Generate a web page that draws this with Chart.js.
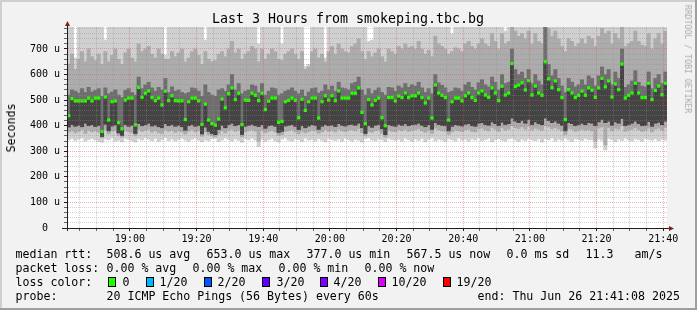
<!DOCTYPE html>
<html>
<head>
<meta charset="utf-8">
<script src="https://cdn.jsdelivr.net/npm/chart.js@4.4.1/dist/chart.umd.min.js"></script>
<style>
  body { margin: 0; background: #f2f2f2; }
  #wrap { position: relative; width: 697px; height: 310px; overflow: hidden; font-family: 'DejaVu Sans Mono', monospace; color: #000; }
  #wrap canvas { position: absolute; left: 0; top: 0; }
  .t { position: absolute; white-space: pre; font-size: 11.6px; line-height: 14px; height: 14px; }
  .box { position: absolute; width: 6px; height: 8px; border: 1px solid #000; }
  #title { position: absolute; left: 0; width: 696px; top: 11px; text-align: center; font-size: 13.3px; line-height: 16px; white-space: pre; }
  #ytitle { position: absolute; left: 11px; top: 128px; transform: translate(-50%, -50%) rotate(-90deg); font-size: 11.6px; white-space: pre; }
  #brand { position: absolute; left: 688px; top: 59px; transform: translate(-50%, -50%) rotate(90deg); font-size: 8.2px; color: #ababab; white-space: pre; }
</style>
</head>
<body>
<div id="wrap">
  <canvas id="chart" width="697" height="310"></canvas>
  <div id="title">Last 3 Hours from smokeping.tbc.bg</div>
  <div id="ytitle">Seconds</div>
  <div id="brand">RRDTOOL / TOBI OETIKER</div>
  <div id="legend"></div>
</div>
<script>
// Tempo: minutos desde 18:00 (inicio 18:41:08, um passo por minuto)
const startMinute = 41 + 8 / 60;
const stepCount = 180;

// Mediana do rtt (us)
const medianRtt = [
  439,506,497,497,497,497,508,497,508,508,377,512,422,494,497,412,388,500,508,508,
  403,550,511,527,536,510,498,508,481,535,498,517,498,497,497,424,494,508,508,497,
  405,484,422,408,402,426,504,470,525,548,502,527,404,500,499,527,519,498,527,463,
  496,508,508,413,417,494,499,508,499,431,503,460,494,508,508,430,494,517,500,517,
  498,536,508,508,508,527,527,548,452,408,502,481,499,508,431,400,510,510,497,516,
  510,528,510,517,517,528,510,489,508,430,559,528,519,510,422,494,508,508,497,517,
  528,510,499,528,536,520,511,548,528,498,554,520,528,643,553,559,568,540,576,520,
  555,528,519,650,583,549,575,541,510,424,541,528,510,519,535,519,548,539,511,548,
  585,552,575,512,563,541,641,508,519,528,566,528,510,510,566,502,538,555,521,566
];

// Fumaca (smoke): limites das faixas por passo
const smokeMin = [
  345,350,342,348,352,340,346,350,344,338,335,348,345,352,340,343,337,350,346,341,
  336,349,344,352,347,341,350,338,345,353,342,348,340,346,351,344,339,347,352,343,
  337,345,341,349,350,338,344,352,346,340,348,343,335,349,345,351,344,318,347,339,
  345,350,341,336,347,352,343,340,348,345,338,351,344,346,340,349,343,337,350,346,
  342,348,339,351,345,340,347,343,336,349,352,344,341,348,345,338,350,346,342,347,
  340,351,345,339,348,343,350,337,346,352,341,347,344,338,349,345,340,351,343,347,
  339,348,344,352,341,346,350,337,345,349,343,340,348,351,344,338,347,342,350,345,
  341,348,336,349,345,352,340,347,343,351,344,338,349,346,342,350,345,345,312,348,
  343,305,350,345,338,347,342,351,344,340,348,345,339,350,346,343,349,341,347,344
];
const smokeLow = [
  375,380,372,378,385,370,382,376,380,374,352,384,368,378,381,362,355,380,376,372,
  360,385,378,382,386,375,380,372,370,384,378,382,374,380,376,368,378,384,376,380,
  358,375,365,360,356,368,380,372,382,386,378,382,356,376,380,384,378,340,382,372,
  378,382,376,362,365,378,380,384,376,368,378,372,377,382,380,370,376,384,378,382,
  376,386,380,377,382,384,380,388,372,360,378,374,380,383,370,355,382,378,376,384,
  380,386,378,382,384,388,380,374,382,370,390,383,380,378,366,376,382,380,377,384,
  386,378,376,388,390,383,380,392,386,378,392,383,386,400,392,388,395,386,398,383,
  390,386,382,400,395,388,392,386,380,365,388,386,378,383,386,382,385,380,340,390,
  395,325,392,380,390,386,400,378,383,386,392,384,378,380,390,376,386,390,382,392
];
const smokeDarkLow = [
  395,405,398,402,396,410,400,404,397,401,358,406,380,399,403,372,362,405,398,402,
  370,408,400,404,410,399,403,396,392,408,400,405,398,402,396,382,400,405,398,401,
  368,395,378,370,365,385,402,392,405,410,400,404,366,398,402,406,400,397,404,390,
  400,403,398,374,378,399,402,405,398,385,400,392,399,404,401,386,398,405,400,403,
  397,408,402,399,404,406,402,410,392,370,400,394,402,405,388,365,404,400,398,406,
  402,408,400,404,406,410,402,396,404,386,412,405,402,400,380,398,404,402,399,406,
  408,400,398,410,412,405,402,415,408,400,414,405,408,430,418,412,420,410,425,405,
  415,408,404,430,420,412,418,410,402,380,412,408,400,405,410,404,412,410,400,415,
  425,412,418,402,415,410,428,400,405,410,418,408,400,402,416,398,410,414,404,418
];
const smokeDarkHigh = [
  520,540,535,528,545,530,550,532,538,545,515,548,525,532,540,520,510,538,545,530,
  520,590,545,560,570,548,535,550,540,585,530,552,535,540,530,525,530,548,545,535,
  515,560,530,520,515,540,545,535,560,600,540,565,525,535,540,560,555,530,565,520,
  535,548,545,520,525,535,540,548,535,525,540,515,532,545,548,528,535,560,540,555,
  535,570,548,545,540,565,570,590,540,520,545,525,538,548,530,520,550,548,535,555,
  548,565,550,560,555,570,548,530,545,525,600,568,558,548,530,535,548,545,535,560,
  570,550,540,568,580,560,552,590,570,540,600,565,570,700,620,600,610,585,620,565,
  600,575,560,790,640,595,620,585,555,530,585,570,552,560,580,560,595,585,555,595,
  630,600,620,560,610,585,700,550,560,575,615,570,555,552,610,545,585,600,565,610
];
const smokeHigh = [
  640,680,620,660,690,650,700,670,655,680,640,690,650,675,700,660,640,685,700,665,
  650,720,690,700,710,680,665,700,680,660,660,690,670,685,700,650,665,690,700,675,
  640,690,660,650,655,680,690,670,700,730,685,700,660,680,690,710,700,650,700,660,
  680,700,690,660,655,680,690,700,680,660,690,620,630,690,700,665,680,650,690,710,
  680,720,700,690,685,710,720,740,690,660,690,670,685,700,670,650,700,690,680,710,
  700,720,705,710,700,730,700,680,695,670,750,720,710,700,680,690,705,700,690,720,
  730,710,700,720,740,720,710,760,730,700,760,720,730,790,770,750,760,740,770,720,
  760,730,720,790,780,750,770,740,710,690,740,730,710,720,740,720,750,740,710,750,
  780,760,770,720,760,740,790,710,720,730,770,730,715,710,760,700,740,760,720,770
];
const smokeMax = [
  790,790,665,790,790,790,790,790,790,790,790,735,790,790,790,790,790,790,790,790,
  790,790,790,790,790,790,790,790,790,676,790,790,790,790,790,790,790,790,790,790,
  790,735,790,790,790,790,790,790,790,790,790,790,790,790,790,790,790,720,790,790,
  790,790,790,790,720,790,790,790,790,790,790,632,640,790,790,790,790,665,790,790,
  790,790,790,790,790,790,790,790,790,790,730,735,790,790,790,790,790,790,790,790,
  790,790,790,790,790,790,790,790,790,790,790,790,790,790,790,760,790,790,790,790,
  790,790,790,790,790,790,790,790,790,790,790,770,790,790,790,790,790,790,790,790,
  790,790,790,790,790,790,790,790,790,790,790,790,790,790,790,790,790,790,790,790,
  790,790,790,790,790,790,790,790,790,790,790,790,790,790,790,790,790,790,790,790
];

// Legenda
const legendRows = [
  ['median rtt:', '508.6 us avg', '653.0 us max', '377.0 us min', '567.5 us now', '0.0 ms sd', '11.3', 'am/s'],
  ['packet loss:', '0.00 % avg', '0.00 % max', '0.00 % min', '0.00 % now'],
  ['loss color:'],
  ['probe:', '20 ICMP Echo Pings (56 Bytes) every 60s', 'end: Thu Jun 26 21:41:08 2025']
];
const lossLabels = ['0', '1/20', '2/20', '3/20', '4/20', '10/20', '19/20'];
const lossColors = ['#26ff00', '#00b8ff', '#0059ff', '#5e00ff', '#7e00ff', '#dd00ff', '#ff0000'];

// posicoes da legenda (px)
const legendX = [
  [16, 107, 207, 307, 407, 507, 586, 635],
  [16, 107, 193, 279, 365],
  [16],
  [16, 107, 478]
];
const legendY = [254.3, 268.3, 282.3, 296.3];
const lossBoxX = [108, 146, 203.5, 262, 320, 378, 442.5];
const lossTextX = [123, 160, 218, 277, 334, 392, 457];

const legendEl = document.getElementById('legend');
legendRows.forEach((row, r) => {
  row.forEach((txt, k) => {
    const d = document.createElement('div');
    d.className = 't';
    d.textContent = txt;
    d.style.left = (legendX[r][k] - 0.5) + 'px';
    d.style.top = (legendY[r] - 7) + 'px';
    legendEl.appendChild(d);
  });
});
lossLabels.forEach((txt, k) => {
  const b = document.createElement('div');
  b.className = 'box';
  b.style.background = lossColors[k];
  b.style.left = lossBoxX[k] + 'px';
  b.style.top = (legendY[2] - 5) + 'px';
  legendEl.appendChild(b);
  const d = document.createElement('div');
  d.className = 't';
  d.textContent = txt;
  d.style.left = (lossTextX[k] - 0.5) + 'px';
  d.style.top = (legendY[2] - 7) + 'px';
  legendEl.appendChild(d);
});

// pontos no eixo x
const xAt = i => startMinute + i + 0.5;
function band(lo, hi) {
  return lo.map((v, i) => ({ x: xAt(i), y: [v, hi[i]] }));
}

// Fundo, moldura e setas dos eixos (estilo rrdtool)
const rrdFrame = {
  id: 'rrdFrame',
  beforeDraw(chart) {
    const { ctx, chartArea: a, width, height } = chart;
    ctx.save();
    ctx.fillStyle = '#f2f2f2';
    ctx.fillRect(0, 0, width, height);
    ctx.fillStyle = '#cfcfcf';
    ctx.fillRect(0, 0, width, 2);
    ctx.fillRect(0, 0, 2, height);
    ctx.fillStyle = '#9e9e9e';
    ctx.fillRect(0, height - 2, width, 2);
    ctx.fillRect(width - 2, 0, 2, height);
    ctx.fillStyle = '#ffffff';
    ctx.fillRect(a.left, a.top, a.right - a.left, a.bottom - a.top);
    ctx.restore();
  },
  afterDraw(chart) {
    const { ctx, chartArea: a } = chart;
    ctx.save();
    ctx.strokeStyle = '#1f1f1f';
    ctx.lineWidth = 1;
    ctx.beginPath();
    ctx.moveTo(a.left - 5, a.bottom + 0.5);
    ctx.lineTo(a.right + 4, a.bottom + 0.5);
    ctx.moveTo(a.left + 0.5, a.bottom + 3);
    ctx.lineTo(a.left + 0.5, a.top - 2);
    ctx.stroke();
    ctx.fillStyle = '#801f1f';
    ctx.beginPath();
    ctx.moveTo(a.left - 2, a.top - 1);
    ctx.lineTo(a.left + 3, a.top - 1);
    ctx.lineTo(a.left + 0.5, a.top - 6);
    ctx.closePath();
    ctx.fill();
    ctx.beginPath();
    ctx.moveTo(a.right + 2, a.bottom - 2);
    ctx.lineTo(a.right + 2, a.bottom + 3);
    ctx.lineTo(a.right + 7, a.bottom + 0.5);
    ctx.closePath();
    ctx.fill();
    ctx.restore();
  }
};

const tickFont = { family: "'DejaVu Sans Mono', monospace", size: 10 };
const minorGrid = 'rgba(140,140,140,0.4)';
const majorGrid = 'rgba(222,79,79,0.42)';

const barBase = { grouped: false, barPercentage: 1, categoryPercentage: 1, borderWidth: 0, clip: 0 };

new Chart(document.getElementById('chart'), {
  type: 'bar',
  data: {
    datasets: [
      Object.assign({ data: band(smokeMin, smokeMax), backgroundColor: '#d0d0d0', order: 6 }, barBase),
      Object.assign({ data: band(smokeLow, smokeHigh), backgroundColor: '#acacac', order: 5 }, barBase),
      Object.assign({ data: band(smokeDarkLow, smokeDarkHigh), backgroundColor: '#6e6e6e', order: 4 }, barBase),
      Object.assign({ data: band(smokeDarkLow, medianRtt), backgroundColor: '#444444', order: 3 }, barBase),
      {
        type: 'line',
        data: medianRtt.map((v, i) => ({ x: xAt(i), y: v })),
        showLine: false,
        pointStyle: 'rect',
        pointRadius: 2.3,
        pointHoverRadius: 2.3,
        pointBorderWidth: 0,
        pointBackgroundColor: '#26ff00',
        order: 1
      }
    ]
  },
  options: {
    responsive: false,
    devicePixelRatio: 1,
    animation: false,
    events: [],
    layout: { padding: { top: 27, right: 30, left: 0, bottom: 0 } },
    plugins: { legend: { display: false }, tooltip: { enabled: false } },
    scales: {
      x: {
        type: 'linear',
        min: startMinute,
        max: startMinute + stepCount,
        offset: false,
        afterBuildTicks: s => {
          const t = [];
          for (let m = 45; m <= 220; m += 5) t.push({ value: m });
          s.ticks = t;
        },
        afterFit: s => { s.height = 82; s.paddingLeft = 0; s.paddingRight = 0; },
        grid: {
          z: 1,
          offset: false,
          tickLength: 3,
          color: c => (c.tick && c.tick.value % 20 === 0) ? majorGrid : minorGrid,
          tickColor: c => (c.tick && c.tick.value % 20 === 0) ? '#1f1f1f' : '#666666'
        },
        border: { display: true, color: '#1f1f1f', dash: [1, 1], z: 2 },
        ticks: {
          autoSkip: false,
          maxRotation: 0,
          padding: 2,
          color: '#000',
          font: tickFont,
          callback: v => {
            if (v % 20 !== 0) return '';
            const h = 18 + Math.floor(v / 60);
            const m = v % 60;
            return h + ':' + String(m).padStart(2, '0');
          }
        }
      },
      y: {
        min: 0,
        max: 786,
        afterFit: s => { s.width = 67; s.paddingTop = 0; s.paddingBottom = 0; },
        grid: {
          z: 1,
          tickLength: 3,
          color: c => (c.tick && c.tick.value % 100 === 0) ? majorGrid : minorGrid,
          tickColor: c => (c.tick && c.tick.value % 100 === 0) ? '#1f1f1f' : '#666666'
        },
        border: { display: true, color: '#1f1f1f', dash: [1, 1], z: 2 },
        ticks: {
          stepSize: 20,
          includeBounds: false,
          autoSkip: false,
          padding: 4,
          color: '#000',
          font: tickFont,
          callback: v => {
            if (v % 100 !== 0) return '';
            return v === 0 ? '0  ' : v + ' u';
          }
        }
      }
    }
  },
  plugins: [rrdFrame]
});
</script>
</body>
</html>
